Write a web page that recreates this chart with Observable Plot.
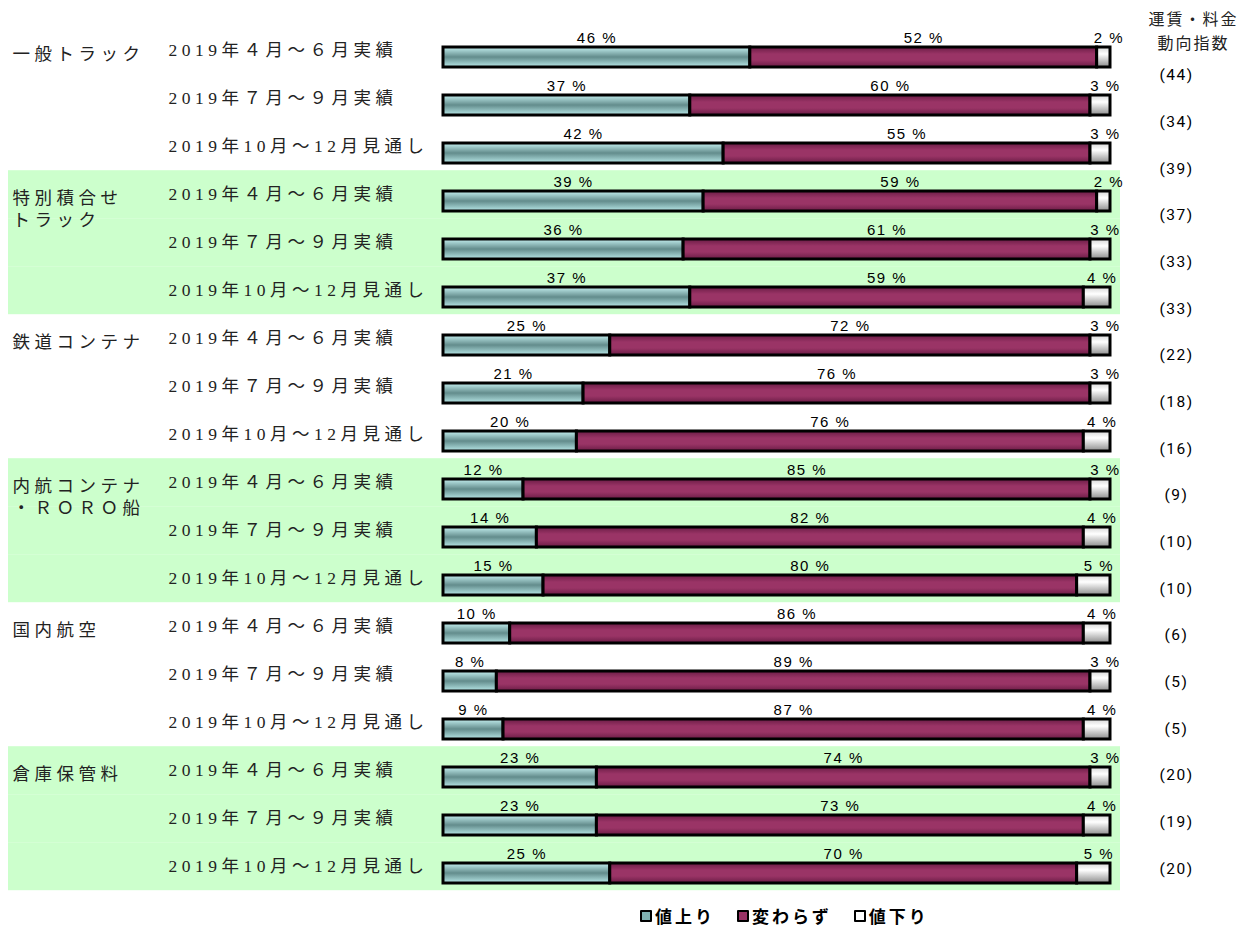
<!DOCTYPE html>
<html>
<head>
<meta charset="utf-8">
<script src="https://cdn.jsdelivr.net/npm/d3@7"></script>
<script src="https://cdn.jsdelivr.net/npm/@observablehq/plot@0.6"></script>
<style>
  body { margin: 0; background: #fff; }
  #chart svg { display: block; }
  g[font-family*="Liberation Serif"] { letter-spacing: 4.5px; }
  g[font-family*="Liberation Sans"] { letter-spacing: 1.5px; }
  g[font-family*="Roboto"] { letter-spacing: 1.5px; }
  g[font-family="Noto Sans CJK JP"] { letter-spacing: 2px; }
  #legend { margin-left: 640px; margin-top: 3px; font-family: "Noto Sans CJK JP", sans-serif; font-weight: bold; font-size: 17px; letter-spacing: 3px; display: flex; gap: 22px; align-items: center; }
  #legend .item { display: flex; align-items: center; }
  #legend .sw { width: 8px; height: 8px; border: 2.5px solid #000; border-radius: 1px; margin-right: 3px; }
</style>
</head>
<body>
<div id="chart"></div>
<div id="legend"></div>
<script>
// ---- data ----
const groups = ["一般トラック", "特別積合せ\nトラック", "鉄道コンテナ", "内航コンテナ\n・ＲＯＲＯ船", "国内航空", "倉庫保管料"];
const periods = ["2019年４月～６月実績", "2019年７月～９月実績", "2019年10月～12月見通し"];
const categories = ["値上り", "変わらず", "値下り"];
const up   = [46, 37, 42, 39, 36, 37, 25, 21, 20, 12, 14, 15, 10, 8, 9, 23, 23, 25];
const same = [52, 60, 55, 59, 61, 59, 72, 76, 76, 85, 82, 80, 86, 89, 87, 74, 73, 70];
const down = [2, 3, 3, 2, 3, 4, 3, 3, 4, 3, 4, 5, 4, 3, 4, 3, 4, 5];
const indexValues = [44, 34, 39, 37, 33, 33, 22, 18, 16, 9, 10, 10, 6, 5, 5, 20, 19, 20];
const shadedGroups = [1, 3, 5];
const headerText = "運賃・料金\n動向指数";

// ---- derived tables ----
const rows = up.map((u, i) => ({
  row: i,
  group: Math.floor(i / 3),
  period: periods[i % 3],
  index: indexValues[i]
}));
const long = [];
rows.forEach((r, i) => {
  [up[i], same[i], down[i]].forEach((v, k) => long.push({row: i, cat: categories[k], value: v}));
});
const shadeRows = rows.filter(r => shadedGroups.includes(r.group));
const groupRows = groups.map((g, gi) => ({row: gi * 3, label: g}));

const gradIds = ["url(#gUp)", "url(#gSame)", "url(#gDown)"];
const LABEL_FONT = "Liberation Serif, Noto Sans CJK JP, serif";
const PCT_FONT = "Liberation Sans, Arial, sans-serif";
const IDX_FONT = "Roboto, Arial, sans-serif";

const marks = [
  Plot.barX(shadeRows, {x1: 0, x2: 100, y: "row", fill: "#ccffcc",
    insetTop: -20.8, insetBottom: -7.2, insetLeft: -435, insetRight: -10}),
  Plot.barX(long, Plot.stackX({x: "value", y: "row", fill: "cat",
    stroke: "#000", strokeWidth: 3})),
  Plot.text(long, Plot.stackX({x: "value", y: "row",
    text: d => d.cat !== "値下り" ? `${d.value} %` : null,
    dy: -19, fontSize: 15, fontFamily: PCT_FONT, fill: "#000"})),
  Plot.text(long, Plot.stackX({x: "value", y: "row",
    text: d => d.cat === "値下り" ? `${d.value} %` : null,
    dy: -19, dx: 5, fontSize: 15, fontFamily: PCT_FONT, fill: "#000"})),
  Plot.text(rows, {y: "row", text: "period", frameAnchor: "left", dx: -275, textAnchor: "start",
    lineAnchor: "top", dy: -14, fontSize: 17.5, fontFamily: LABEL_FONT, fill: "#222"}),
  Plot.text(groupRows, {y: "row", text: "label", frameAnchor: "left", dx: -431, textAnchor: "start",
    lineAnchor: "top", dy: -14, lineHeight: 1.3, fontSize: 17.5, fontFamily: LABEL_FONT, fill: "#222"}),
  ...rows.map((r, i) => Plot.text([r], {y: "row", text: d => `(${d.index})`, frameAnchor: "right",
    textAnchor: "middle", dx: 66, dy: 18 - 1.35 * i, fontSize: 15.5, fontFamily: IDX_FONT, fill: "#000"})),
  Plot.text([headerText], {frameAnchor: "top-right", textAnchor: "middle", dx: 83, dy: -6, lineAnchor: "middle",
    lineHeight: 1.5, fontSize: 16, fontFamily: "Noto Sans CJK JP", fill: "#222"})
];

const svg = Plot.plot({
  width: 1237,
  height: 900,
  marginLeft: 443,
  marginRight: 127,
  marginTop: 35,
  marginBottom: 5,
  x: {domain: [0, 100], axis: null},
  y: {domain: d3.range(rows.length), axis: null, paddingInner: 0.58, paddingOuter: 0.2},
  color: {domain: categories, range: gradIds},
  style: {overflow: "visible"},
  marks
});

d3.select(svg).insert("defs", ":first-child").html(`
  <linearGradient id="gUp" x1="0" y1="0" x2="0" y2="1">
    <stop offset="0" stop-color="#c4f0f0"/>
    <stop offset="0.5" stop-color="#638c8c"/>
    <stop offset="1" stop-color="#b8e8e8"/>
  </linearGradient>
  <linearGradient id="gSame" x1="0" y1="0" x2="0" y2="1">
    <stop offset="0" stop-color="#6a1c45"/>
    <stop offset="0.35" stop-color="#9a3466"/>
    <stop offset="0.65" stop-color="#9a3466"/>
    <stop offset="1" stop-color="#6a1c45"/>
  </linearGradient>
  <linearGradient id="gDown" x1="0" y1="0" x2="0" y2="1">
    <stop offset="0" stop-color="#d6d6d6"/>
    <stop offset="0.35" stop-color="#ffffff"/>
    <stop offset="1" stop-color="#8c8c8c"/>
  </linearGradient>
`);

document.getElementById("chart").appendChild(svg);

const legendColors = ["#7fb0b0", "#993366", "#ffffff"];
const legend = d3.select("#legend");
categories.forEach((c, k) => {
  const it = legend.append("div").attr("class", "item");
  it.append("div").attr("class", "sw").style("background", legendColors[k]);
  it.append("span").text(c);
});
</script>
</body>
</html>
